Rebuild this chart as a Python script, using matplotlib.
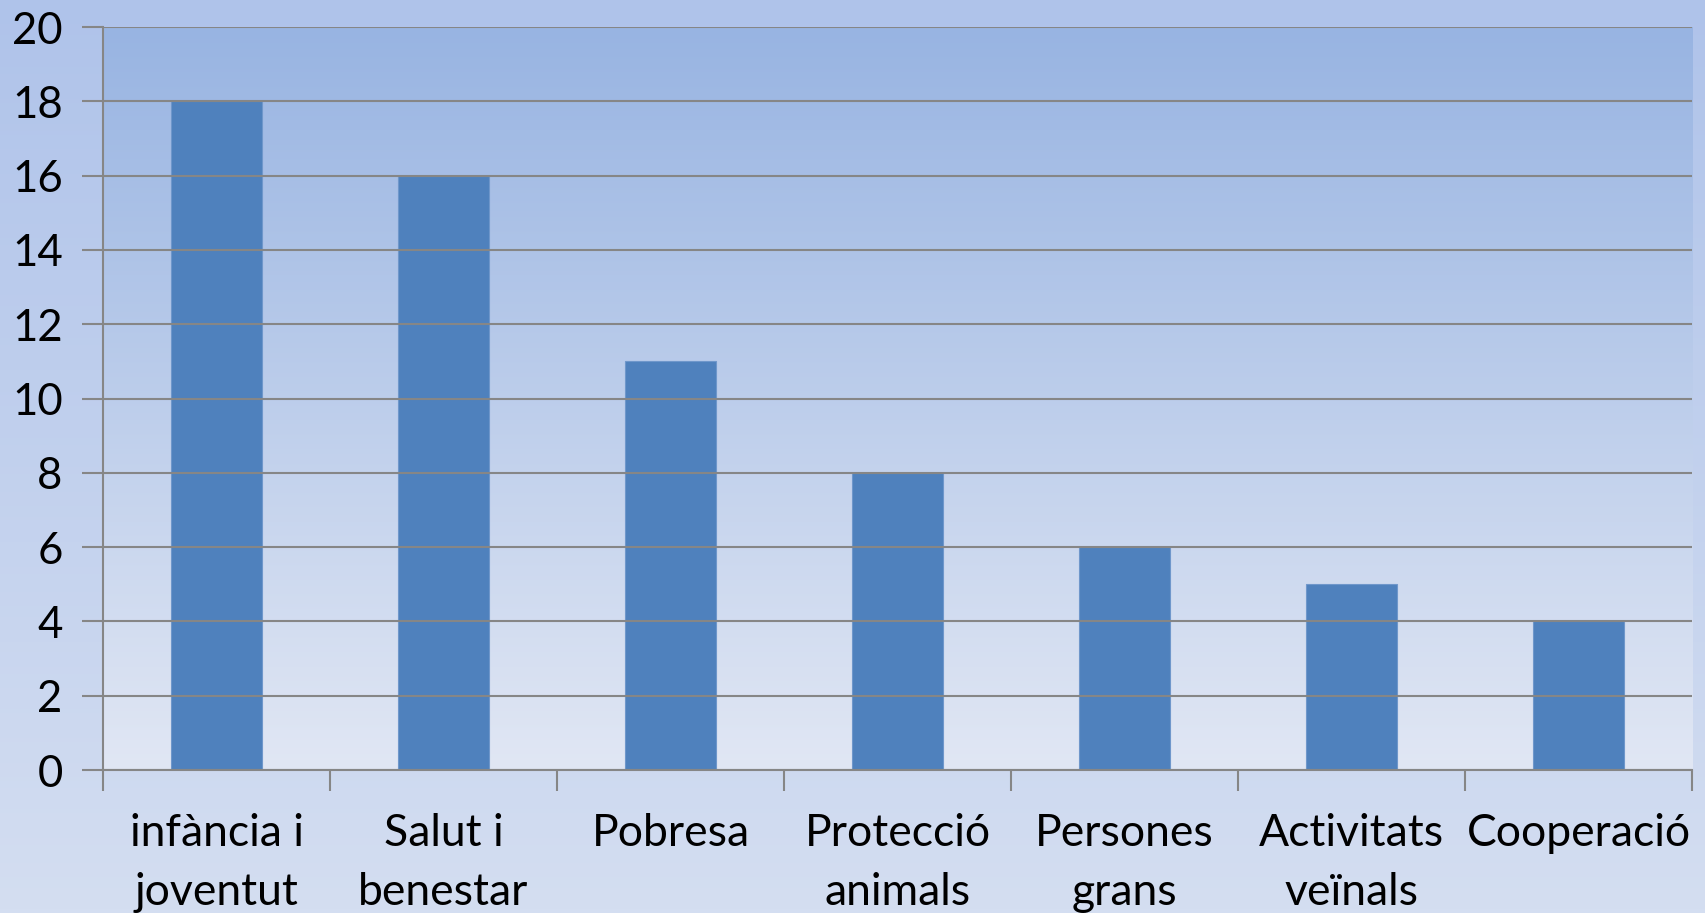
import numpy as np
import matplotlib.pyplot as plt
from matplotlib.colors import LinearSegmentedColormap

categories = ["infància i\njoventut", "Salut i\nbenestar", "Pobresa", "Protecció\nanimals",
              "Persones\ngrans", "Activitats\nveïnals", "Cooperació"]
values = [18, 16, 11, 8, 6, 5, 4]
yticks = list(range(0, 21, 2))

plt.rcParams["font.family"] = ["Lato", "DejaVu Sans"]

fig = plt.figure(figsize=(17.05, 9.13), dpi=100)

# figure background gradient
bg = fig.add_axes([0, 0, 1, 1], zorder=-1)
bg_cmap = LinearSegmentedColormap.from_list("bg", ["#D4DEF1", "#AFC3EA"])
bg.imshow(np.linspace(0, 1, 256).reshape(-1, 1), cmap=bg_cmap, aspect="auto",
          origin="lower", extent=[0, 1, 0, 1])
bg.axis("off")

ax = fig.add_axes([0.0604, 0.1566, 0.9320, 0.8138])
ax.patch.set_visible(False)
plot_cmap = LinearSegmentedColormap.from_list("plot", ["#E1E7F4", "#98B4E2"])
ax.imshow(np.linspace(0, 1, 256).reshape(-1, 1), cmap=plot_cmap, aspect="auto",
          origin="lower", extent=[0, 1, 0, 1], transform=ax.transAxes, zorder=0)

x = np.arange(len(categories))
ax.bar(x, values, width=0.4, color="#4F81BD", edgecolor="#6F97CB", linewidth=0.8, zorder=2)

ax.set_xlim(-0.5, len(categories) - 0.5)
ax.set_ylim(0, 20)
ax.set_yticks(yticks)
ax.grid(axis="y", color="#868686", linewidth=1.5, zorder=1)
ax.set_axisbelow(False)
for gl in ax.get_ygridlines():
    gl.set_zorder(1)

ax.set_xticks(np.arange(-0.5, len(categories), 1))
ax.set_xticklabels([])
ax.set_xticks(x, categories, minor=True)
ax.tick_params(axis="x", which="major", length=15, width=1.5, color="#868686")
ax.tick_params(axis="x", which="minor", length=0, pad=31, labelsize=32)
ax.tick_params(axis="y", length=15, width=1.5, color="#868686", labelsize=31.5, pad=14)
for lbl in ax.get_xticklabels(minor=True):
    lbl.set_linespacing(1.55)

for s in ["top", "right"]:
    ax.spines[s].set_visible(False)
for s in ["left", "bottom"]:
    ax.spines[s].set_color("#868686")
    ax.spines[s].set_linewidth(1.5)
    ax.spines[s].set_zorder(3)

plt.savefig("out.png", dpi=100)
